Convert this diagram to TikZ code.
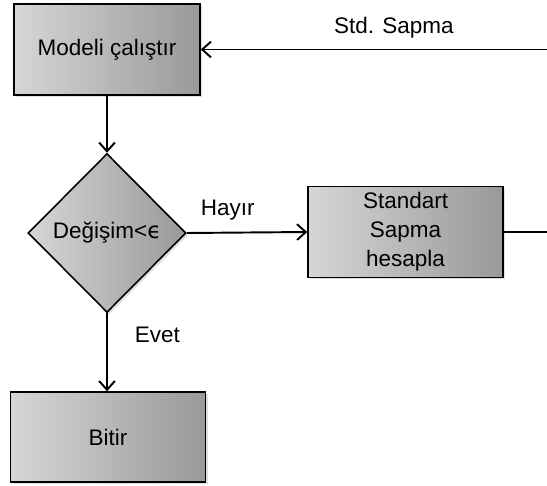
\documentclass[tikz,border=0pt]{standalone}
\usepackage{fontspec}
\setmainfont{Liberation Sans}
\newfontfamily\epsfont{DejaVu Sans}
\usetikzlibrary{shapes.geometric, arrows.meta, shadows}

\tikzset{
    adim/.style={draw, line width=0.9pt, left color=black!16, right color=black!40,
        drop shadow={shadow xshift=1.2pt, shadow yshift=-1.2pt, opacity=0.25},
        align=center, font=\fontsize{12.8}{16.5}\selectfont},
    karar/.style={adim, diamond, inner sep=0pt, minimum width=3.16cm, minimum height=3.18cm},
    etiket/.style={font=\fontsize{12.8}{15}\selectfont}
}

\begin{document}
\begin{tikzpicture}[x=0.02cm, y=-0.02cm, >={Straight Barb[length=5pt, width=9pt]}, line width=1.1pt]
        \useasboundingbox (0,0) rectangle (547,486);
        \path[clip] (0,0) rectangle (547,486);

        % akış adımları
        \node[adim, minimum width=3.72cm, minimum height=1.82cm] (model) at (107,49.5) {Modeli çalıştır};
        \node[karar] (degisim) at (107,233) {Değişim<{\epsfont ϵ}};
        \node[adim, minimum width=3.9cm, minimum height=1.8cm] (std) at (405.5,232) {Standart\\Sapma\\hesapla};
        \node[adim, minimum width=3.9cm, minimum height=1.8cm] (bitir) at (108,437) {Bitir};

        % geri dönüş kenarı (sağda kesik)
        \coordinate (sag1) at (565,232);
        \coordinate (sag2) at (565,49.5);

        % bağlantılar
        \draw[->] (model.south) -- (degisim.north);
        \draw[->] (degisim.east) -- node[etiket, pos=0.34, above=3pt] {Hayır} (std.west);
        \draw[->] (degisim.south) -- node[etiket, pos=0.28, right=12pt] {Evet} (bitir.north -| degisim.south);
        \draw[->] (std.east) -- (sag1) -- (sag2) -- node[etiket, pos=0.47, above=2.5pt] {Std. Sapma} (model.east);
    \end{tikzpicture}
\end{document}
